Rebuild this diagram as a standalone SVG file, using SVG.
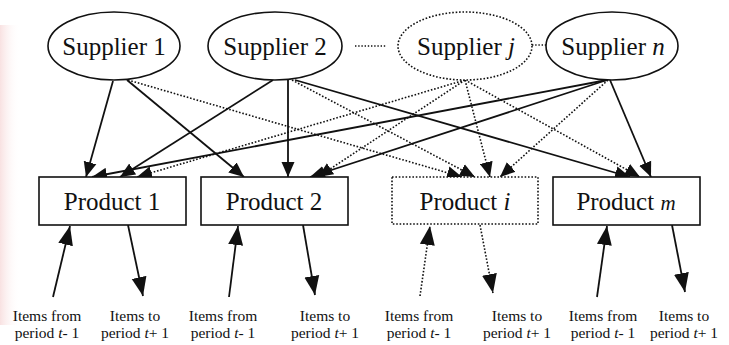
<svg xmlns="http://www.w3.org/2000/svg" width="729" height="345" viewBox="0 0 729 345">
<style>
.nd{fill:#fff;stroke:#111;stroke-width:1.6}
.dt{fill:#fff;stroke:#111;stroke-width:1.6;stroke-dasharray:1.6 1.8}
.lb{font-family:"Liberation Serif","Times New Roman",serif;font-size:25px;fill:#111;text-anchor:middle}
.sm{font-family:"Liberation Serif","Times New Roman",serif;font-size:15.5px;fill:#111;text-anchor:middle}
.c{stroke:#111;stroke-width:1.8;fill:none;marker-end:url(#ah)}
.cd{stroke:#111;stroke-width:1.6;fill:none;stroke-dasharray:1.6 1.8;marker-end:url(#ah)}
.b{stroke:#111;stroke-width:1.8;fill:none;marker-end:url(#ab)}
.bd{stroke:#111;stroke-width:1.6;fill:none;stroke-dasharray:1.6 1.8;marker-end:url(#ab)}
.lk{stroke:#111;stroke-width:1.4;stroke-dasharray:1.4 1.8}
</style>
<defs>
<marker id="ah" markerUnits="userSpaceOnUse" markerWidth="16" markerHeight="14" refX="15" refY="7" orient="auto"><path d="M0,0.5 L15,7 L0,13.5 z" fill="#111"/></marker>
<marker id="ab" markerUnits="userSpaceOnUse" markerWidth="20" markerHeight="16" refX="19" refY="8" orient="auto"><path d="M0,0.5 L19,8 L0,15.5 z" fill="#111"/></marker>
<linearGradient id="pk" x1="0" x2="1" y1="0" y2="0"><stop offset="0" stop-color="#f2c4c4" stop-opacity="0.5"/><stop offset="1" stop-color="#fff" stop-opacity="0"/></linearGradient>
</defs>
<rect width="729" height="345" fill="#fff"/>
<rect x="0" y="25" width="20" height="300" fill="url(#pk)"/>
<g id="connectors">
<line class="lk" x1="355" y1="46" x2="386" y2="46"/>
<line class="lk" x1="532" y1="45" x2="546" y2="45"/>
<line class="c" x1="113" y1="81" x2="86" y2="177"/>
<line class="c" x1="127" y1="80" x2="244" y2="177"/>
<line class="c" x1="273" y1="80" x2="120" y2="177"/>
<line class="c" x1="288" y1="80" x2="288" y2="177"/>
<line class="c" x1="295" y1="80" x2="630" y2="177"/>
<line class="c" x1="607" y1="80" x2="92" y2="177"/>
<line class="c" x1="607" y1="80" x2="310" y2="177"/>
<line class="c" x1="610" y1="80" x2="651" y2="177"/>
<line class="cd" x1="128" y1="80" x2="462" y2="177"/>
<line class="cd" x1="292" y1="80" x2="475" y2="177"/>
<line class="cd" x1="465" y1="80" x2="137" y2="177"/>
<line class="cd" x1="465" y1="80" x2="318" y2="177"/>
<line class="cd" x1="465" y1="80" x2="490" y2="177"/>
<line class="cd" x1="465" y1="80" x2="640" y2="177"/>
<line class="cd" x1="608" y1="80" x2="500" y2="177"/>
<line class="b" x1="53" y1="297" x2="70" y2="226"/>
<line class="b" x1="128" y1="225" x2="143" y2="296"/>
<line class="b" x1="229" y1="297" x2="238" y2="226"/>
<line class="b" x1="303" y1="225" x2="315" y2="295"/>
<line class="bd" x1="420" y1="296" x2="430" y2="226"/>
<line class="bd" x1="480" y1="225" x2="493" y2="293"/>
<line class="b" x1="597" y1="297" x2="607" y2="226"/>
<line class="b" x1="672" y1="225" x2="685" y2="292"/>
</g>
<g id="supplier1"><ellipse class="nd" cx="114" cy="46" rx="66" ry="34"/><text class="lb" x="114" y="55">Supplier 1</text></g>
<g id="supplier2"><ellipse class="nd" cx="275" cy="46" rx="67" ry="34"/><text class="lb" x="275" y="55">Supplier 2</text></g>
<g id="supplierj"><ellipse class="dt" cx="465" cy="46" rx="67" ry="34"/><text class="lb" x="466" y="55">Supplier <tspan font-style="italic">j</tspan></text></g>
<g id="suppliern"><ellipse class="nd" cx="612" cy="46" rx="66" ry="34"/><text class="lb" x="613" y="55">Supplier <tspan font-style="italic">n</tspan></text></g>
<g id="product1"><rect class="nd" x="39" y="177" width="147" height="48"/><text class="lb" x="112" y="210">Product 1</text></g>
<g id="product2"><rect class="nd" x="201" y="177" width="147" height="48"/><text class="lb" x="274" y="210">Product 2</text></g>
<g id="producti"><rect class="dt" x="392" y="177" width="146" height="47"/><text class="lb" x="465" y="210">Product <tspan font-style="italic">i</tspan></text></g>
<g id="productm"><rect class="nd" x="553" y="177" width="147" height="48"/><text class="lb" x="626" y="210">Product <tspan font-style="italic" font-size="21">m</tspan></text></g>
<g id="labels">
<text class="sm" x="47" y="321">Items from</text><text class="sm" x="47" y="338">period <tspan font-style="italic">t</tspan>- 1</text>
<text class="sm" x="135" y="321">Items to</text><text class="sm" x="135" y="338">period <tspan font-style="italic">t</tspan>+ 1</text>
<text class="sm" x="223" y="321">Items from</text><text class="sm" x="223" y="338">period <tspan font-style="italic">t</tspan>- 1</text>
<text class="sm" x="325" y="321">Items to</text><text class="sm" x="325" y="338">period <tspan font-style="italic">t</tspan>+ 1</text>
<text class="sm" x="419" y="321">Items from</text><text class="sm" x="419" y="338">period <tspan font-style="italic">t</tspan>- 1</text>
<text class="sm" x="517" y="321">Items to</text><text class="sm" x="517" y="338">period <tspan font-style="italic">t</tspan>+ 1</text>
<text class="sm" x="603" y="321">Items from</text><text class="sm" x="603" y="338">period <tspan font-style="italic">t</tspan>- 1</text>
<text class="sm" x="684" y="321">Items to</text><text class="sm" x="684" y="338">period <tspan font-style="italic">t</tspan>+ 1</text>
</g>
</svg>
